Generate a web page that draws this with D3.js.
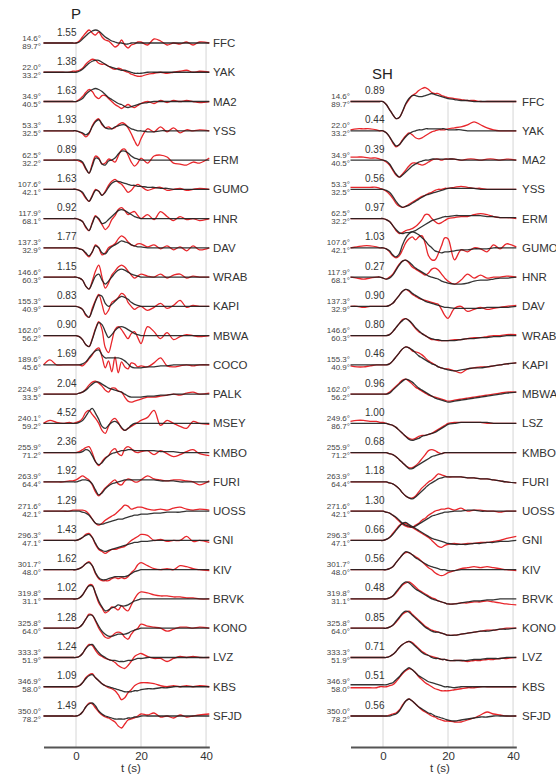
<!DOCTYPE html>
<html>
<head>
<meta charset="utf-8">
<script src="https://cdn.jsdelivr.net/npm/d3@7"></script>
<style>
  body { margin: 0; background: #fff; }
  text { font-family: "Liberation Sans", Arial, sans-serif; }
</style>
</head>
<body>
<svg id="chart" width="556" height="780"></svg>
<script>
// sample times (s), shared by every trace
var T = [-10,-8,-6,-4,-2,-1,0,1,2,3,4,5,6,7,8,9,10,11,12,13,14,15,16,17,18,19,20,22,24,26,28,30,32,34,36,38,41];
var tickValues = [0, 20, 40];

// ---- P waves ----
var pStations = ["FFC","YAK","MA2","YSS","ERM","GUMO","HNR","DAV","WRAB","KAPI","MBWA","COCO","PALK","MSEY","KMBO","FURI","UOSS","GNI","KIV","BRVK","KONO","LVZ","KBS","SFJD"];
var pAz = [14.6,22.0,34.9,53.3,62.5,107.6,117.9,137.3,146.6,155.3,162.0,189.6,224.9,240.1,255.9,263.9,271.6,296.3,301.7,319.8,325.8,333.3,346.9,350.0];
var pDist = [89.7,33.2,40.5,32.5,32.2,42.1,68.1,32.9,60.3,40.9,56.2,45.6,33.5,59.2,71.2,64.4,42.1,47.1,48.0,31.1,64.0,51.9,58.0,78.2];
var pAmp = ["1.55","1.38","1.63","1.93","0.89","1.63","0.92","1.77","1.15","0.83","0.90","1.69","2.04","4.52","2.36","1.92","1.29","1.43","1.62","1.02","1.28","1.24","1.09","1.49"];

// synthetics (black)
var pSyn = [
  [0,0,0,0,0,0, 0,1,4,7,10,12,13,12,9,6,4,2,1,0,0,-1,-1,0,0,0,0, 0,0,0,0,0,0,0,0,0,0],
  [0,0,0,0,0,0, 0,1,3,6,9,11,12,12,10,8,6,5,4,3,2,2,1,0,-1,-1,-1, 0,0,0,0,0,0,0,0,0,0],
  [0,0,0,0,0,0, 0,1,3,7,10,12,13,12,10,7,4,2,0,-2,-3,-5,-6,-5,-4,-3,-2, -1,0,0,0,0,0,0,0,0,0],
  [0,0,0,0,0,0, 0,-1,-2,-4,-2,4,9,11,7,3,2,2,4,5,6,6,4,2,1,0,0, -1,-1,0,0,0,0,0,0,0,0],
  [0,0,0,0,0,0, 0,0,-2,-8,-13,-6,2,1,-4,-5,-1,0,2,6,9,9,7,4,2,1,0, 0,0,0,0,0,0,0,0,0,0],
  [0,0,0,0,0,0, 0,-1,-3,-8,-12,-7,-1,-2,-6,-3,2,6,8,8,7,6,5,4,4,3,3, 2,2,1,1,0,0,0,0,0,0],
  [0,0,0,0,0,0, 0,-1,-3,-8,-12,-5,2,0,-5,-4,-1,2,5,8,9,8,6,4,2,1,0, 0,0,0,0,0,0,0,0,0,0],
  [0,0,0,0,0,0, 0,-1,-2,-5,-8,-4,2,0,-5,-6,-2,1,3,5,7,6,5,3,2,1,1, 0,0,0,0,0,0,0,0,0,0],
  [0,0,0,0,0,0, 0,-1,-3,-9,-12,-6,1,3,-3,-7,-4,0,4,7,8,7,5,3,2,1,0, 0,0,0,0,0,0,0,0,0,0],
  [0,0,0,0,0,0, 0,-1,-3,-8,-11,-4,5,11,10,3,0,2,5,8,10,9,7,4,2,1,0, 0,0,0,0,0,0,0,0,0,0],
  [0,0,0,0,0,0, 0,-1,-4,-9,-11,-4,6,13,11,4,-2,1,5,8,9,8,6,4,2,1,0, 0,0,0,0,0,0,0,0,0,0],
  [0,0,0,0,0,0, 0,0,1,3,7,11,14,15,10,7,7,7,7,7,6,4,1,-2,-3,-3,-3, -2,-2,-1,-1,0,0,0,0,0,0],
  [0,0,0,0,0,0, 0,1,2,4,7,10,12,12,10,8,6,5,4,3,2,0,-2,-3,-3,-3,-3, -2,-2,-1,-1,0,0,0,0,0,0],
  [0,0,0,0,0,0, 0,1,3,7,12,15,10,4,-3,-5,-2,1,2,0,-4,-7,-5,-2,0,0,0, 0,0,0,0,0,0,0,0,0,0],
  [0,0,0,0,0,0, 0,0,1,3,2,-3,-9,-12,-10,-6,-3,-1,0,1,2,2,3,3,2,2,2, 2,2,1,1,1,0,0,0,0,0],
  [0,0,0,0,0,0, 0,1,2,2,1,-2,-8,-13,-11,-7,-4,-2,-1,0,1,2,2,2,2,2,2, 2,2,1,1,1,0,0,0,0,0],
  [0,0,0,0,0,0, 0,0,-1,-2,-4,-8,-12,-13,-13,-12,-11,-10,-9,-8,-8,-7,-6,-5,-4,-4,-3, -3,-2,-2,-1,-1,-1,0,0,0,0],
  [0,0,0,0,0,0, 0,1,3,5,6,3,-3,-8,-10,-11,-10,-9,-8,-7,-6,-5,-4,-3,-2,-2,-1, -1,0,0,0,0,0,0,0,0,0],
  [0,0,0,0,0,0, 0,1,3,6,7,4,-3,-8,-10,-10,-9,-8,-7,-7,-7,-7,-6,-4,-2,-1,0, 0,0,0,0,0,0,0,0,0,0],
  [0,0,0,0,0,0, 0,1,4,9,13,13,6,-2,-8,-12,-11,-9,-8,-6,-7,-7,-6,-4,-2,-1,0, 0,0,0,0,0,0,0,0,0,0],
  [0,0,0,0,0,0, 0,1,4,9,13,13,8,2,-3,-6,-8,-8,-7,-6,-6,-6,-5,-3,-2,-1,0, 0,0,0,0,0,0,0,0,0,0],
  [0,0,0,0,0,0, 0,1,4,9,12,13,9,5,2,0,-2,-3,-3,-4,-4,-4,-3,-3,-2,-1,-1, 0,0,0,0,0,0,0,0,0,0],
  [0,0,0,0,0,0, 0,1,4,8,11,12,9,6,3,1,0,-1,-2,-3,-4,-5,-5,-5,-4,-4,-3, -2,-2,-1,-1,0,0,0,0,0,0],
  [0,0,0,0,0,0, 0,1,4,9,12,13,10,5,2,0,-1,-2,-3,-3,-3,-3,-2,-2,-1,-1,0, 0,0,0,0,0,0,0,0,0,0]
];
// observed (red)
var pObs = [
  [0,0,0,0,0,0, 0,2,6,10,13,10,8,11,6,3,2,-1,-4,-2,3,-2,-5,-2,-1,1,1, -2,4,2,-2,0,-1,1,-2,1,0],
  [0,0,0,0,0,1, 1,2,4,8,11,13,12,9,8,8,6,4,3,4,3,1,0,-2,-3,-4,-4, -2,-1,0,-1,0,1,2,0,1,0],
  [0,0,0,0,0,0, 0,2,5,9,12,10,5,3,6,6,3,0,-3,-5,-7,-5,-3,-5,-6,-4,-2, 0,-2,1,-1,1,0,1,0,-1,0],
  [0,0,0,0,0,0, 0,-1,-3,-6,-3,5,10,12,6,3,4,2,3,6,8,7,3,-3,-10,-15,-8, 2,-1,4,-1,3,-2,1,0,1,0],
  [0,0,0,0,0,0, 0,-1,-3,-9,-13,-4,4,2,-4,-3,1,0,-2,4,10,11,5,-2,-6,-3,2, -3,4,5,3,-3,-4,-5,-2,-3,2],
  [0,0,0,0,0,0, 0,-1,-4,-9,-12,-6,0,-2,-6,-2,4,8,10,7,5,1,-3,-1,3,5,3, -1,1,2,-1,0,1,-1,0,1,0],
  [0,0,0,0,0,0, 0,-1,-3,-9,-12,-4,3,-1,-6,-11,-8,-1,3,9,11,8,4,6,7,3,0, 4,-1,7,2,-2,2,-1,0,-2,0],
  [0,0,0,0,0,0, 0,-1,-2,-6,-9,-4,3,0,-7,-5,0,2,4,9,12,10,6,3,2,4,4, 1,3,-1,2,-2,1,-3,2,-2,0],
  [0,0,0,0,0,0, 0,-1,-3,-9,-12,-4,6,12,0,-11,-6,2,6,10,12,10,6,2,-1,1,3, 1,0,3,-1,2,3,-1,1,0,0],
  [0,0,0,0,0,0, 0,-1,-3,-9,-11,-2,6,12,2,-8,-4,4,6,9,13,11,4,0,-3,-1,0, -4,-1,3,-2,1,6,-1,1,0,0],
  [0,0,0,0,0,0, 0,-1,-4,-9,-11,-3,7,14,6,-12,-17,-6,6,9,6,1,-3,2,4,-2,-8, 9,4,-3,3,-4,-1,1,0,-1,0],
  [0,5,0,0,0,0, 0,0,-1,2,6,10,15,17,8,-3,4,-7,8,-8,3,-2,-4,2,1,-2,-1, -2,2,7,-1,-2,-1,0,-1,0,0],
  [0,0,0,0,0,0, 0,1,2,5,9,12,13,11,8,4,2,6,6,3,2,-3,-7,-8,-7,-6,-5, -3,-3,-2,-1,0,-1,1,2,0,1],
  [0,3,1,0,1,0, 1,2,5,11,13,9,5,0,-7,-10,-3,3,5,1,-5,-7,-5,-3,-1,1,3, 6,13,-2,3,0,-3,-5,2,0,-1],
  [0,0,0,0,0,0, 0,1,3,5,6,0,-9,-13,-9,-5,-3,2,4,-1,-3,4,6,4,1,0,1, 2,-2,2,-1,-4,-2,1,3,-1,-3],
  [0,0,0,0,1,1, 2,4,6,4,2,-3,-10,-14,-10,-6,-3,0,2,-2,-3,1,3,2,0,0,2, 6,3,2,1,2,2,1,0,-3,1],
  [0,0,0,0,0,1, 1,1,1,0,-3,-8,-12,-14,-12,-9,-7,-5,-3,0,3,6,5,2,3,4,4, 2,1,2,1,3,4,2,1,2,1],
  [0,0,0,0,0,0, 0,1,3,6,7,3,-4,-9,-11,-13,-11,-9,-9,-8,-7,-6,-3,0,2,4,6, 5,0,1,-1,0,0,4,-1,0,-2],
  [0,0,0,0,0,0, 0,1,3,6,8,4,-4,-9,-11,-11,-11,-9,-8,-9,-8,-9,-7,-3,0,5,7, 4,1,0,1,0,4,3,1,0,-1],
  [0,0,0,0,0,0, 0,1,4,9,14,14,5,-4,-9,-14,-12,-8,-9,-11,-7,-10,-12,-6,0,5,7, 6,4,3,3,2,2,1,1,0,0],
  [0,0,0,0,0,0, 0,1,4,9,14,13,7,0,-5,-9,-10,-8,-5,-4,-5,-9,-11,-6,-2,0,4, 2,1,0,-3,-1,1,1,0,1,0],
  [0,0,0,0,0,0, 0,1,4,9,13,12,7,3,1,-1,-2,-3,-5,-8,-10,-11,-8,-4,1,3,4, 1,-1,-1,-4,-1,1,0,1,0,0],
  [0,0,0,0,0,0, 0,1,4,9,12,13,9,6,3,1,-1,-2,-4,-8,-13,-11,-6,-3,1,3,4, 4,3,1,0,1,0,1,0,1,0],
  [0,0,0,0,0,0, 0,1,4,9,13,12,8,4,1,-1,-2,-4,-6,-10,-12,-8,-4,-3,-2,0,2, 1,3,-1,0,-2,1,-1,0,1,2]
];

// ---- SH waves ----
var shStations = ["FFC","YAK","MA2","YSS","ERM","GUMO","HNR","DAV","WRAB","KAPI","MBWA","LSZ","KMBO","FURI","UOSS","GNI","KIV","BRVK","KONO","LVZ","KBS","SFJD"];
var shAz = [14.6,22.0,34.9,53.3,62.5,107.6,117.9,137.3,146.6,155.3,162.0,249.6,255.9,263.9,271.6,296.3,301.7,319.8,325.8,333.3,346.9,350.0];
var shDist = [89.7,33.2,40.5,32.5,32.2,42.1,68.1,32.9,60.3,40.9,56.2,86.7,71.2,64.4,42.1,47.1,48.0,31.1,64.0,51.9,58.0,78.2];
var shAmp = ["0.89","0.44","0.39","0.56","0.97","1.03","0.27","0.90","0.80","0.46","0.96","1.00","0.68","1.18","1.30","0.66","0.56","0.48","0.85","0.71","0.51","0.56"];

var shSyn = [
  [0,0,0,0,0,0, 0,-3,-8,-13,-17,-16,-10,-2,3,6,6,5,5,6,7,8,7,6,5,4,3, 2,1,1,0,0,0,0,0,0,0],
  [0,0,0,0,0,0, 0,-2,-6,-11,-15,-14,-10,-6,-3,-1,0,1,1,2,2,2,2,2,2,2,1, 1,1,0,0,0,0,0,0,0,0],
  [0,0,0,0,0,0, 0,-1,-4,-9,-14,-17,-15,-12,-9,-6,-4,-2,-1,0,0,1,1,1,1,1,1, 1,0,0,0,0,0,0,0,0,0],
  [0,0,0,0,0,0, 0,-1,-3,-7,-12,-16,-18,-17,-16,-14,-12,-10,-8,-6,-5,-4,-3,-2,-1,0,1, 1,1,1,1,0,0,0,0,0,0],
  [0,0,0,0,0,0, 0,-1,-3,-7,-11,-14,-15,-14,-14,-13,-12,-10,-8,-6,-4,-2,-1,0,1,2,2, 3,3,3,3,3,2,2,1,1,1],
  [0,0,0,0,0,0, 0,-1,-3,-7,-9,-6,3,10,14,16,15,13,10,7,3,0,-3,-4,-5,-4,-4, -3,-2,-2,-1,-1,-1,0,0,0,0],
  [0,0,0,0,0,0, -1,-2,-1,2,7,12,16,17,15,12,9,7,5,3,1,0,-1,-2,-4,-5,-6, -7,-7,-6,-4,-3,-3,-2,-1,-1,0],
  [0,0,0,0,0,0, 0,0,1,3,7,11,15,17,16,13,11,9,7,5,4,3,2,1,0,-1,-1, -2,-2,-2,-2,-2,-1,-1,-1,-1,0],
  [0,0,0,0,0,0, 0,0,1,4,8,12,15,17,15,12,8,5,2,0,-2,-3,-4,-4,-5,-5,-5, -5,-4,-3,-3,-2,-2,-1,-1,0,0],
  [0,0,0,0,0,0, 0,0,1,4,8,12,16,18,17,15,12,9,7,5,3,1,0,-2,-3,-4,-5, -6,-5,-4,-3,-3,-2,-1,0,1,2],
  [0,0,0,0,0,0, 0,0,1,4,7,10,13,15,14,12,9,6,4,2,0,-2,-4,-5,-6,-7,-8, -7,-6,-5,-4,-3,-2,-1,0,1,2],
  [0,0,0,0,0,0, 0,0,-1,-2,-4,-7,-10,-13,-16,-17,-16,-15,-13,-12,-11,-10,-9,-7,-5,-3,-1, 0,1,1,1,1,1,0,0,0,0],
  [0,0,0,0,0,0, 0,0,-1,-2,-4,-7,-10,-13,-16,-16,-14,-12,-10,-8,-6,-4,-3,-2,-1,0,0, 0,0,0,0,0,0,0,0,0,0],
  [0,0,0,0,0,0, 0,0,-1,-2,-4,-7,-11,-14,-16,-17,-15,-12,-9,-6,-3,-1,1,3,4,5,5, 5,5,4,4,3,3,2,1,0,-1],
  [0,0,0,0,0,0, 0,-1,-2,-4,-6,-9,-12,-14,-15,-16,-15,-13,-11,-9,-7,-5,-4,-3,-2,-1,-1, 0,0,1,1,0,0,0,0,0,0],
  [0,0,0,0,0,0, 0,1,3,6,10,14,17,18,16,14,12,10,8,6,4,2,1,0,-1,-2,-3, -4,-4,-4,-3,-3,-2,-2,-1,-1,0],
  [0,0,0,0,0,0, 0,0,1,3,7,11,15,18,17,15,12,10,8,6,4,3,2,1,0,0,-1, -1,0,0,0,0,0,0,0,0,0],
  [0,0,0,0,0,0, 0,0,1,3,7,11,15,17,16,13,10,8,6,4,2,0,-1,-2,-3,-4,-5, -5,-4,-3,-2,-2,-1,-1,0,0,0],
  [0,0,0,0,0,0, 0,0,1,3,7,11,15,17,16,13,10,7,4,1,-1,-3,-4,-4,-5,-6,-7, -7,-6,-5,-4,-3,-3,-2,-1,-1,0],
  [0,0,0,0,0,0, 0,0,1,3,6,10,13,15,16,14,11,8,5,3,2,0,-1,-1,-2,-2,-3, -3,-3,-3,-2,-2,-1,-1,-1,0,0],
  [2,2,2,2,2,2, 2,2,3,4,7,10,14,17,19,17,14,11,9,7,5,4,3,2,1,0,0, -1,0,0,0,0,0,0,0,0,0],
  [0,0,0,0,0,0, 0,0,0,1,2,5,10,15,17,15,12,9,7,5,3,2,0,-1,-2,-3,-4, -5,-4,-3,-2,-1,-1,0,0,0,0]
];
var shObs = [
  [0,0,0,0,0,0, 0,-3,-8,-13,-17,-16,-10,-3,2,6,8,11,13,14,12,9,8,8,6,5,4, 3,2,1,1,0,0,0,0,0,0],
  [1,2,2,2,1,0, 0,-2,-6,-12,-16,-14,-9,-5,-2,-4,-7,-8,-7,-5,-3,-1,0,1,1,1,2, 3,4,6,9,6,3,1,0,0,0],
  [3,3,3,2,2,1, 0,-2,-5,-10,-15,-17,-14,-10,-6,-3,-3,-4,-5,-4,-2,0,1,1,0,1,1, 1,0,1,1,0,1,1,0,1,0],
  [2,2,2,2,2,1, 0,-2,-5,-9,-14,-17,-18,-17,-15,-13,-11,-9,-7,-6,-4,-3,-1,0,0,1,1, 2,3,2,1,1,0,0,0,0,0],
  [0,0,0,0,0,0, 0,-1,-3,-7,-12,-15,-14,-12,-11,-10,-8,-5,-1,4,4,0,-3,-5,-4,-2,0, 1,2,2,4,5,4,2,1,1,0],
  [0,1,2,2,1,0, 0,-1,-4,-8,-10,-8,-2,5,9,11,8,11,12,4,-8,-12,-12,-6,2,10,9, -12,-2,-4,0,-1,-4,3,-1,4,1],
  [0,-1,-2,-1,0,0, -1,-2,0,3,8,13,16,17,14,10,8,6,4,2,4,8,9,7,3,-1,-4, -7,-3,3,-1,2,-1,0,0,1,0],
  [0,0,-1,0,0,0, 0,0,1,3,7,11,15,17,15,12,10,8,7,6,5,4,3,2,-3,-9,-12, -2,0,-5,-3,-1,-3,-2,-1,0,1],
  [0,0,0,0,0,0, 0,0,1,4,8,12,16,17,15,11,7,4,2,0,-2,-4,-4,-5,-5,-5,-5, -4,-4,-3,-2,-2,-1,0,0,1,1],
  [-1,-2,-2,-1,0,0, 0,0,1,4,8,12,16,18,17,14,13,12,10,7,4,2,0,-2,-3,-4,-4, -6,-8,-4,-3,-2,-2,-1,0,1,2],
  [0,0,0,0,0,0, 0,0,2,5,8,11,14,15,13,10,7,5,3,1,-1,-2,-3,-4,-5,-6,-7, -6,-5,-4,-3,-2,-1,0,1,2,2],
  [2,3,3,2,2,1, 1,0,-1,-2,-4,-7,-10,-13,-15,-16,-15,-13,-12,-12,-11,-10,-8,-6,-4,-2,0, 1,1,1,1,1,0,0,0,0,0],
  [0,0,0,0,0,0, 0,0,-1,-2,-4,-7,-10,-13,-15,-15,-13,-10,-6,-2,2,3,2,0,-1,0,0, 0,0,0,0,0,0,0,0,0,0],
  [0,0,0,0,0,0, 0,0,-1,-2,-4,-7,-11,-14,-16,-16,-14,-10,-6,-3,0,2,5,8,7,6,5, 5,5,4,4,3,3,2,1,0,-1],
  [0,0,0,0,0,0, 0,-1,-2,-4,-7,-10,-13,-15,-16,-16,-14,-12,-9,-7,-4,-2,0,1,2,2,3, 1,3,0,1,1,0,0,-1,0,0],
  [0,0,0,0,0,0, 0,1,3,7,11,15,17,17,15,13,11,9,7,5,3,0,-3,-6,-7,-5,-4, -3,-4,-3,-3,-2,-2,-1,0,2,4],
  [0,0,0,0,0,0, 0,0,1,3,7,11,15,17,17,15,13,11,8,5,2,0,-3,-5,-6,-5,-3, -1,1,2,3,2,3,2,1,0,-1],
  [0,0,0,0,0,0, 0,0,1,3,6,10,14,16,17,15,12,9,7,5,3,1,0,-2,-3,-4,-5, -5,-4,-4,-3,-3,-2,-3,-4,-5,-6],
  [0,0,0,0,0,0, 0,0,1,3,6,10,14,16,17,14,11,8,5,2,0,-2,-3,-4,-5,-6,-7, -7,-6,-5,-4,-3,-2,-2,-1,0,0],
  [0,0,0,0,0,0, 0,0,1,3,6,10,13,15,16,15,12,9,6,4,2,1,0,-1,-2,-2,-3, -3,-3,-4,-3,-3,-2,-2,-1,-1,0],
  [-1,-1,-1,-1,-1,0, 0,0,1,2,5,9,13,16,18,17,14,10,7,4,2,0,-2,-3,-4,-4,-4, -3,-2,-1,-1,0,0,0,0,0,0],
  [0,0,0,0,0,0, 0,0,1,2,3,6,11,15,17,15,12,9,6,4,2,0,-1,-3,-4,-5,-5, -6,-6,-4,-2,1,4,2,1,0,0]
];

var svg = d3.select("#chart");
var deg = d3.format(".1f");

// one row spacing shared by both panels
var rowY = d3.scaleLinear().domain([0, 23]).range([43, 716]);
// trace amplitude in px offset
var amp = d3.scaleLinear().domain([-20, 20]).range([20, -20]);
var axisY = 747;

function drawPanel(opt) {
  var x = d3.scaleLinear().domain([-10, 41]).range(opt.range);
  var g = svg.append("g");
  var top = rowY(opt.row0);

  // vertical grid
  g.selectAll("line.grid")
      .data(tickValues)
    .enter().append("line")
      .attr("x1", function(d) { return x(d); })
      .attr("x2", function(d) { return x(d); })
      .attr("y1", top)
      .attr("y2", axisY)
      .style("stroke", "#d6d6d6")
      .style("stroke-width", 1);

  var line = d3.line()
      .curve(d3.curveCatmullRom)
      .x(function(d) { return x(d[0]); })
      .y(function(d) { return d[1]; });

  function pts(vals, i) {
    var y0 = rowY(opt.row0 + i);
    return vals.map(function(v, k) { return [T[k], y0 + amp(v)]; });
  }

  g.append("g").selectAll("path")
      .data(opt.obs)
    .enter().append("path")
      .attr("d", function(d, i) { return line(pts(d, i)); })
      .style("fill", "none")
      .style("stroke", "#e8262b")
      .style("stroke-width", 1.3);

  g.append("g").selectAll("path")
      .data(opt.syn)
    .enter().append("path")
      .attr("d", function(d, i) { return line(pts(d, i)); })
      .style("fill", "none")
      .style("stroke", "#1e1e1e")
      .style("stroke-width", 1.3)
      .style("opacity", 0.9);

  // labels per row
  var rows = g.append("g").selectAll("g")
      .data(opt.stations)
    .enter().append("g")
      .attr("transform", function(d, i) { return "translate(0," + rowY(opt.row0 + i) + ")"; });

  rows.append("text")
      .attr("x", opt.labelX)
      .attr("y", -2.5)
      .attr("text-anchor", "end")
      .style("font-size", "8px")
      .style("fill", "#444")
      .text(function(d, i) { return deg(opt.az[i]) + "°"; });

  rows.append("text")
      .attr("x", opt.labelX)
      .attr("y", 5.5)
      .attr("text-anchor", "end")
      .style("font-size", "8px")
      .style("fill", "#444")
      .text(function(d, i) { return deg(opt.dist[i]) + "°"; });

  rows.append("text")
      .attr("x", opt.ampX)
      .attr("y", -7.5)
      .style("font-size", "10px")
      .style("fill", "#333")
      .text(function(d, i) { return opt.amp[i]; });

  rows.append("text")
      .attr("x", opt.nameX)
      .attr("y", 4)
      .style("font-size", "11.5px")
      .style("fill", "#333")
      .text(function(d) { return d; });

  // x axis
  var ax = g.append("g")
      .attr("transform", "translate(0," + axisY + ")")
      .call(d3.axisBottom(x).tickValues(tickValues).tickSize(0).tickPadding(5));
  ax.select(".domain").style("stroke", "#555").style("stroke-width", 2);
  ax.selectAll("text").style("font-size", "11.5px").style("fill", "#333")
      .style("font-family", "Liberation Sans, Arial, sans-serif");

  g.append("text")
      .attr("x", opt.xLabelX)
      .attr("y", 772)
      .attr("text-anchor", "middle")
      .style("font-size", "11.5px")
      .style("fill", "#333")
      .text("t (s)");

  g.append("text")
      .attr("x", opt.titleX)
      .attr("y", opt.titleY)
      .style("font-size", "15px")
      .style("fill", "#222")
      .text(opt.title);
}

drawPanel({
  title: "P", titleX: 71, titleY: 19,
  range: [43.5, 209.3], row0: 0,
  stations: pStations, az: pAz, dist: pDist, amp: pAmp,
  syn: pSyn, obs: pObs,
  labelX: 41, ampX: 57, nameX: 213, xLabelX: 131
});

drawPanel({
  title: "SH", titleX: 372, titleY: 79,
  range: [350.5, 516.3], row0: 2,
  stations: shStations, az: shAz, dist: shDist, amp: shAmp,
  syn: shSyn, obs: shObs,
  labelX: 350, ampX: 365, nameX: 522, xLabelX: 440
});
</script>
</body>
</html>
